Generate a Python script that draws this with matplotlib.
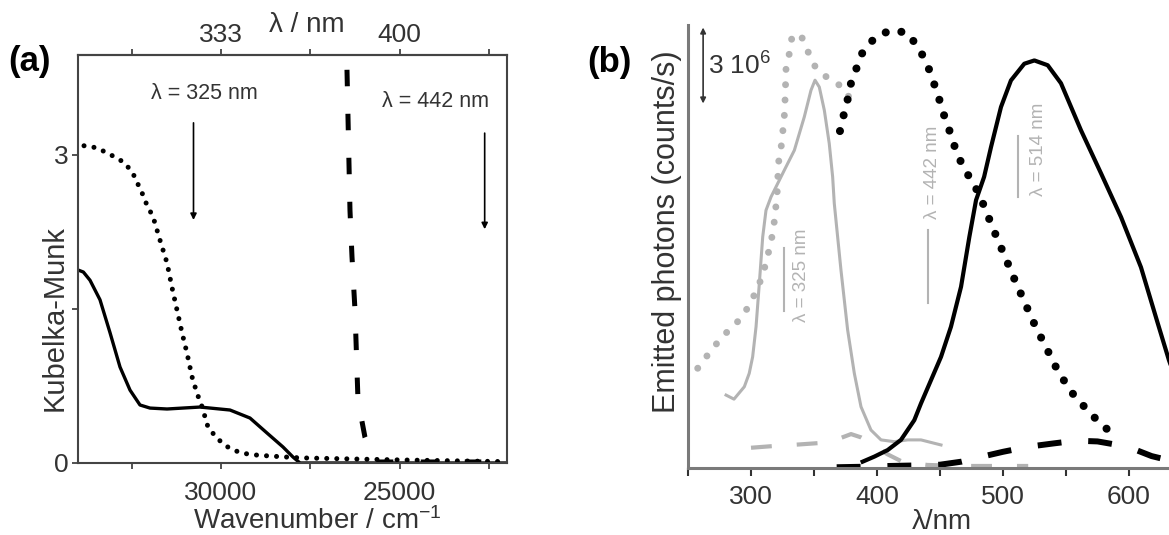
import numpy as np
import matplotlib
matplotlib.use('Agg')
import matplotlib.pyplot as plt

plt.rcParams['font.family'] = ['Liberation Sans', 'DejaVu Sans']
plt.rcParams['mathtext.fontset'] = 'custom'
plt.rcParams['mathtext.rm'] = 'Liberation Sans'
plt.rcParams['mathtext.it'] = 'Liberation Sans'

# ---- pannello (a): Kubelka-Munk vs numero d'onda ----
wn_solido = [34000, 33850, 33664, 33385, 33105, 32825, 32545, 32266, 31986, 31510,
             30588, 29748, 29189, 28713, 28266, 27986, 27790, 26000, 22000]
km_solido = [1.88, 1.86, 1.78, 1.59, 1.27, 0.935, 0.71, 0.565, 0.535, 0.526,
             0.545, 0.516, 0.438, 0.292, 0.156, 0.058, 0.0, 0.0, 0.0]

wn_punti = [33832, 33469, 33189, 32909, 32685, 32462, 32182, 32070, 31902, 31706,
            31511, 31371, 31231, 31091, 30951, 30811, 30672, 30532, 30364, 30112,
            29832, 29469, 29105, 28714, 28266, 27790, 25000, 22000]
km_punti = [3.09, 3.07, 3.02, 2.97, 2.92, 2.82, 2.61, 2.51, 2.40, 2.17,
            1.95, 1.71, 1.49, 1.27, 1.07, 0.84, 0.68, 0.55, 0.35, 0.24,
            0.16, 0.10, 0.08, 0.07, 0.06, 0.05, 0.03, 0.013]

wn_tratti = [26476, 26392, 26336, 26252, 26168, 25972, 25777, 25650, 22000]
km_tratti = [3.83, 2.46, 2.01, 1.49, 0.61, 0.25, 0.08, 0.01, 0.01]

ticks_wn = [32500, 30000, 27500, 25000, 22500]
labels_wn = ['', '30000', '', '25000', '']
ticks_nm = [1e7 / t for t in ticks_wn]
labels_nm = ['', '333', '', '400', '']

# ---- pannello (b): fotoni emessi (unita' 1e6 counts/s) vs lambda ----
lam_grigio_punti = [257.7, 266.9, 277.0, 288.9, 297.9, 304.5, 309.3, 312.7, 315.9, 318.0,
                    319.3, 320.6, 321.2, 321.7, 323.8, 325.2, 326.4, 327.0, 327.4, 327.8,
                    330.4, 332.3, 339.1, 345.0, 350.8, 361.3, 372.8, 379.4]
em_grigio_punti = [3.94, 4.55, 5.18, 5.75, 6.36, 7.03, 7.62, 8.28, 8.93, 9.52,
                   10.12, 10.74, 11.30, 12.03, 12.62, 13.27, 13.87, 14.52, 15.12, 15.78,
                   16.37, 16.96, 17.16, 16.47, 15.87, 15.38, 15.05, 14.52]

lam_grigio = [280.2, 286.5, 294.7, 298.6, 301.3, 304.0, 306.6, 309.3, 311.9, 315.9,
              321.2, 326.4, 334.4, 342.3, 347.6, 350.8, 354.2, 358.2, 362.1, 364.8,
              366.1, 371.4, 376.7, 382.0, 387.3, 395.2, 403.2, 413.7, 424.4, 434.9, 450.8]
em_grigio = [2.88, 2.72, 3.21, 3.74, 4.39, 5.58, 7.29, 9.13, 10.18, 10.71,
             11.24, 11.76, 12.55, 13.87, 14.92, 15.32, 15.05, 14.13, 12.82, 11.50,
             10.45, 7.82, 5.45, 3.74, 2.42, 1.50, 1.11, 1.04, 1.11, 1.11, 0.91]

lam_grigio_tratti = [300, 318.5, 338.3, 358.2, 372, 379.4, 387.3, 397.9, 408, 420, 440, 470, 500, 520]
em_grigio_tratti = [0.80, 0.87, 0.93, 1.00, 1.20, 1.34, 1.21, 0.91, 0.55, 0.25, 0.12, 0.08, 0.08, 0.08]

lam_nero = [388.6, 397.9, 408.5, 419.0, 429.6, 434.9, 450.8, 458.7, 466.7, 473.3,
            478.6, 485.0, 490.5, 498.4, 506.3, 516.9, 524.9, 535.5, 546.0, 561.9,
            577.8, 593.7, 609.5, 622.8, 631.7, 640.0, 650.0]
em_nero = [0.25, 0.45, 0.71, 1.11, 1.89, 2.55, 4.39, 5.58, 7.16, 9.13,
           10.58, 11.5, 12.68, 14.26, 15.31, 15.97, 16.10, 15.91, 15.2, 13.34,
           11.64, 9.91, 7.93, 5.72, 4.26, 3.1, 2.1]

lam_nero_punti = [370.6, 373.5, 376.7, 379.4, 384.1, 388.6, 398.7, 410.6, 423.8, 433.0,
                  439.7, 444.2, 448.7, 452.1, 456.6, 460.6, 465.3, 472.0, 479.4, 484.7,
                  490.0, 495.2, 500.5, 505.8, 511.1, 516.9, 522.2, 528.3, 534.7, 540.7,
                  548.2, 556.6, 567.7, 579.1, 592.3]
em_nero_punti = [13.31, 13.93, 14.56, 15.21, 15.84, 16.43, 17.02, 17.29, 17.2, 16.6,
                 15.97, 15.34, 14.69, 14.09, 13.47, 12.84, 12.22, 11.6, 10.97, 10.38,
                 9.72, 9.09, 8.47, 7.85, 7.22, 6.59, 5.97, 5.34, 4.72, 4.10,
                 3.47, 2.85, 2.25, 1.66, 1.20]

lam_nero_tratti = [368, 390, 410, 430, 450, 467, 481, 500, 520, 540, 558, 575, 590, 600, 618, 632, 645]
em_nero_tratti = [0.03, 0.05, 0.08, 0.10, 0.13, 0.25, 0.42, 0.64, 0.84, 0.97, 1.08, 1.05, 0.92, 0.82, 0.47, 0.30, 0.2]

ticks_lam = [250, 300, 350, 400, 450, 500, 550, 600, 650]
labels_lam = ['', '300', '', '400', '', '500', '', '600', '']

grigio = '#b3b3b3'
scuro = '#333333'

W, H = 1169, 535
fig = plt.figure(figsize=(W / 100, H / 100), dpi=100)

def px(x0, y0, x1, y1):
    # rettangolo in pixel (origine in alto a sinistra) -> frazioni di figura
    return [x0 / W, 1 - y1 / H, (x1 - x0) / W, (y1 - y0) / H]

# ================= (a) =================
ax1 = fig.add_axes(px(78, 55, 507, 463))
ax1.plot(wn_punti, km_punti, color='k', lw=3.6, linestyle=(0, (0.01, 2.0)),
         dash_capstyle='round')
ax1.plot(wn_solido, km_solido, color='k', lw=2.4)
ax1.plot(wn_tratti, km_tratti, color='k', lw=3.6, linestyle=(0, (3.3, 5.5)))
ax1.set_xlim(34000, 22000)
ax1.set_ylim(0, 3.974)
ax1.set_xticks(ticks_wn, labels_wn)
ax1.set_yticks([0, 1.5, 3], ['0', '', '3'])
ax1.tick_params(direction='out', length=4, width=1.2, colors=scuro, labelsize=19)
ax1.tick_params(axis='x', pad=9)
ax1.tick_params(axis='y', pad=3)
for s in ax1.spines.values():
    s.set_color('#444444')
    s.set_linewidth(1.5)

def wn2nm(x):
    x = np.asarray(x, dtype=float)
    with np.errstate(divide='ignore'):
        return 1e7 / x

sec = ax1.secondary_xaxis('top', functions=(wn2nm, wn2nm))
sec.set_xticks(ticks_nm, labels_nm)
sec.tick_params(direction='out', length=4, width=1.2, colors=scuro, labelsize=19, pad=1.5)
sec.spines['top'].set_color('#444444')
sec.spines['top'].set_linewidth(1.5)

ax1.annotate('', xy=(1e7 / 325, 2.34), xytext=(1e7 / 325, 3.34),
             arrowprops=dict(arrowstyle='-|>', color='k', lw=1.2, mutation_scale=9))
ax1.annotate('', xy=(1e7 / 442, 2.25), xytext=(1e7 / 442, 3.24),
             arrowprops=dict(arrowstyle='-|>', color='k', lw=1.2, mutation_scale=9))
ax1.text(30476, 3.60, 'λ = 325 nm', ha='center', va='center', fontsize=15.5, color=scuro)
ax1.text(23987, 3.52, 'λ = 442 nm', ha='center', va='center', fontsize=15.5, color=scuro)

fig.text(30 / W, 1 - 61 / H, '(a)', fontsize=25, fontweight='bold', ha='center', va='center')
fig.text(307 / W, 1 - 25 / H, 'λ / nm', fontsize=20, color=scuro, ha='center', va='center')
fig.text(317 / W, 1 - 521 / H, 'Wavenumber / cm$^{-1}$', fontsize=20, color=scuro,
         ha='center', va='center')
fig.text(55 / W, 1 - 318 / H, 'Kubelka-Munk', fontsize=21, color=scuro, rotation=90,
         ha='center', va='center')

# ================= (b) =================
ax2 = fig.add_axes(px(688, 25, 688 + 400 * 1.26, 468))
ax2.plot(lam_grigio_tratti, em_grigio_tratti, color=grigio, lw=3.0, linestyle=(0, (5, 6)))
ax2.plot(lam_grigio_punti, em_grigio_punti, color=grigio, lw=5.0, linestyle=(0, (0.01, 2.2)),
         dash_capstyle='round')
ax2.plot(lam_grigio, em_grigio, color=grigio, lw=2.2)
ax2.plot(lam_nero_tratti, em_nero_tratti, color='k', lw=4.3, linestyle=(0, (4, 4.5)))
ax2.plot(lam_nero, em_nero, color='k', lw=3.0)
ax2.plot(lam_nero_punti, em_nero_punti, color='k', lw=5.8, linestyle=(0, (0.01, 2.0)),
         dash_capstyle='round')
ax2.set_xlim(250, 650)
ax2.set_ylim(0, 17.5)
ax2.set_xticks(ticks_lam, labels_lam)
ax2.set_yticks([])
ax2.tick_params(axis='x', direction='out', length=6, width=1.5, colors=scuro,
                labelsize=19, pad=6)
ax2.spines['top'].set_visible(False)
ax2.spines['right'].set_visible(False)
for s in ['left', 'bottom']:
    ax2.spines[s].set_color('#7a7a7a')
    ax2.spines[s].set_linewidth(2.2)

# barra di scala 3e6
ax2.annotate('', xy=(262.0, 17.4), xytext=(262.0, 14.4),
             arrowprops=dict(arrowstyle='<|-|>', color=scuro, lw=1.2, mutation_scale=8,
                             shrinkA=0, shrinkB=0))
ax2.text(266.0, 15.9, '3 10$^6$', fontsize=19, color=scuro, ha='left', va='center')

# etichette eccitazione
ax2.text(339.7, 7.6, 'λ = 325 nm', rotation=90, fontsize=13.5, color=grigio,
         ha='center', va='center')
ax2.plot([326.2, 326.2], [6.2, 8.7], color=grigio, lw=1.5)
ax2.text(444.2, 11.7, 'λ = 442 nm', rotation=90, fontsize=13.5, color=grigio,
         ha='center', va='center')
ax2.plot([440.5, 440.5], [6.5, 9.4], color=grigio, lw=1.5)
ax2.text(527.8, 12.6, 'λ = 514 nm', rotation=90, fontsize=13.5, color=grigio,
         ha='center', va='center')
ax2.plot([511.7, 511.7], [10.7, 13.1], color=grigio, lw=1.5)

fig.text(609 / W, 1 - 62 / H, '(b)', fontsize=25, fontweight='bold', ha='center', va='center')
fig.text(942 / W, 1 - 522 / H, 'λ/nm', fontsize=20, color=scuro, ha='center', va='center')
fig.text(667 / W, 1 - 232 / H, 'Emitted photons (counts/s)', fontsize=22, color=scuro,
         rotation=90, ha='center', va='center')

fig.savefig('out.png', dpi=100)
